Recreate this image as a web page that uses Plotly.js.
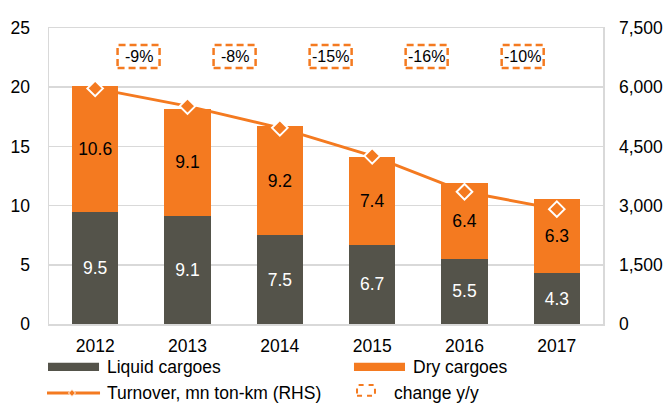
<!DOCTYPE html>
<html>
<head>
<meta charset="utf-8">
<script src="https://cdn.plot.ly/plotly-3.0.1.min.js"></script>
<style>html,body{margin:0;padding:0;background:#fff;}#chart{width:667px;height:403px;}</style>
</head>
<body>
<div id="chart"></div>
<script>
// ---- data ----
const years = ['2012', '2013', '2014', '2015', '2016', '2017'];
const liquidCargoes = [9.5, 9.1, 7.5, 6.7, 5.5, 4.3];
const dryCargoes = [10.6, 9.1, 9.2, 7.4, 6.4, 6.3];
const turnover = [5970, 5520, 4970, 4260, 3350, 2910];
const changeLabels = ['-9%', '-8%', '-15%', '-16%', '-10%'];
const leftTicks = [0, 5, 10, 15, 20, 25];
const rightTicks = [0, 1500, 3000, 4500, 6000, 7500];

// ---- style ----
const ORANGE = '#f47a20';
const DARK = '#54534a';
const GRID = '#d9d9d9';
const FONT = 'Liberation Sans, Arial, sans-serif';

const traces = [
  { // line (behind bars)
    x: years, y: turnover, type: 'scatter', mode: 'lines',
    line: {color: ORANGE, width: 3}, yaxis: 'y', showlegend: false, hoverinfo: 'skip'
  },
  {
    x: years, y: liquidCargoes, type: 'bar', name: 'Liquid cargoes', yaxis: 'y2',
    marker: {color: DARK}, text: liquidCargoes.map(v => v.toFixed(1)),
    textposition: 'inside', insidetextanchor: 'middle', textangle: 0, constraintext: 'none',
    insidetextfont: {color: '#ffffff', size: 17.5, family: FONT}, showlegend: false
  },
  {
    x: years, y: dryCargoes, type: 'bar', name: 'Dry cargoes', yaxis: 'y2',
    marker: {color: ORANGE}, text: dryCargoes.map(v => v.toFixed(1)),
    textposition: 'inside', insidetextanchor: 'middle', textangle: 0, constraintext: 'none',
    insidetextfont: {color: '#000000', size: 17.5, family: FONT}, showlegend: false
  },
  { // markers on top of bars
    x: years, y: turnover, type: 'scatter', mode: 'markers', yaxis: 'y3',
    marker: {symbol: 'diamond', size: 12, color: ORANGE, line: {color: '#ffffff', width: 2}},
    showlegend: false, hoverinfo: 'skip'
  }
];

// change boxes
const shapes = [];
const annotations = [];
changeLabels.forEach((lab, i) => {
  const cx = i + 0.47 + 0.04 * i;
  shapes.push({type: 'rect', xref: 'x', yref: 'paper', x0: cx - 0.2275, x1: cx + 0.2275,
    y0: 0.865, y1: 0.9426, line: {color: ORANGE, width: 2.5, dash: '7px,4px'}, fillcolor: 'rgba(0,0,0,0)'});
  annotations.push({xref: 'x', yref: 'paper', x: cx, y: 0.904, text: lab, showarrow: false,
    font: {size: 16, color: '#000', family: FONT}, xanchor: 'center', yanchor: 'middle'});
});

// manual legend
shapes.push({type: 'rect', xref: 'paper', yref: 'paper', x0: -0.0018, x1: 0.0903, y0: -0.1588, y1: -0.1307,
  fillcolor: DARK, line: {width: 0}});
shapes.push({type: 'rect', xref: 'paper', yref: 'paper', x0: 0.5505, x1: 0.6426, y0: -0.1588, y1: -0.1307,
  fillcolor: ORANGE, line: {width: 0}});
shapes.push({type: 'line', xref: 'paper', yref: 'paper', x0: -0.0036, x1: 0.0921, y0: -0.2331, y1: -0.2331,
  line: {color: ORANGE, width: 3}});
shapes.push({type: 'path', xref: 'paper', yref: 'paper',
  path: 'M 0.0415 -0.2213 L 0.0478 -0.2331 L 0.0415 -0.2449 L 0.0352 -0.2331 Z',
  fillcolor: ORANGE, line: {color: '#ffffff', width: 1}});
shapes.push({type: 'rect', xref: 'paper', yref: 'paper', x0: 0.556, x1: 0.5884, y0: -0.2422, y1: -0.2061,
  line: {color: ORANGE, width: 2, dash: '5px,5px'}, fillcolor: 'rgba(0,0,0,0)'});

const legFont = {size: 17.5, color: '#000', family: FONT};
[['Liquid cargoes', 0.1011, -0.1436], ['Dry cargoes', 0.6534, -0.1436],
 ['Turnover, mn ton-km (RHS)', 0.1011, -0.2331], ['change y/y', 0.6191, -0.2331]].forEach(t => {
  annotations.push({xref: 'paper', yref: 'paper', x: t[1], y: t[2], text: t[0], showarrow: false,
    xanchor: 'left', yanchor: 'middle', font: legFont});
});

const layout = {
  width: 667, height: 403,
  margin: {l: 49, r: 64, t: 28, b: 79},
  paper_bgcolor: '#ffffff', plot_bgcolor: '#ffffff',
  font: {family: FONT, size: 17, color: '#000'},
  barmode: 'stack', bargap: 0.5,
  showlegend: false,
  xaxis: {type: 'category', showline: true, mirror: true, linecolor: GRID, linewidth: 1.5,
    ticks: '', ticklabelstandoff: 5, tickfont: {size: 17.5, color: '#000'}, showgrid: false, zeroline: false},
  yaxis: {range: [0, 7500], side: 'right', tickvals: rightTicks, tickformat: ',d',
    showgrid: false, zeroline: false, showline: false, ticks: '', ticklabelstandoff: 15,
    tickfont: {size: 17.5, color: '#000'}},
  yaxis2: {range: [0, 25], overlaying: 'y', side: 'left', tickvals: leftTicks,
    showgrid: true, gridcolor: GRID, gridwidth: 1.5, zeroline: false,
    showline: true, mirror: true, linecolor: GRID, linewidth: 1.5, ticks: '', ticklabelstandoff: 14,
    tickfont: {size: 17.5, color: '#000'}},
  yaxis3: {range: [0, 7500], overlaying: 'y', visible: false},
  shapes: shapes,
  annotations: annotations
};

Plotly.newPlot('chart', traces, layout, {staticPlot: true, displayModeBar: false});
</script>
</body>
</html>
